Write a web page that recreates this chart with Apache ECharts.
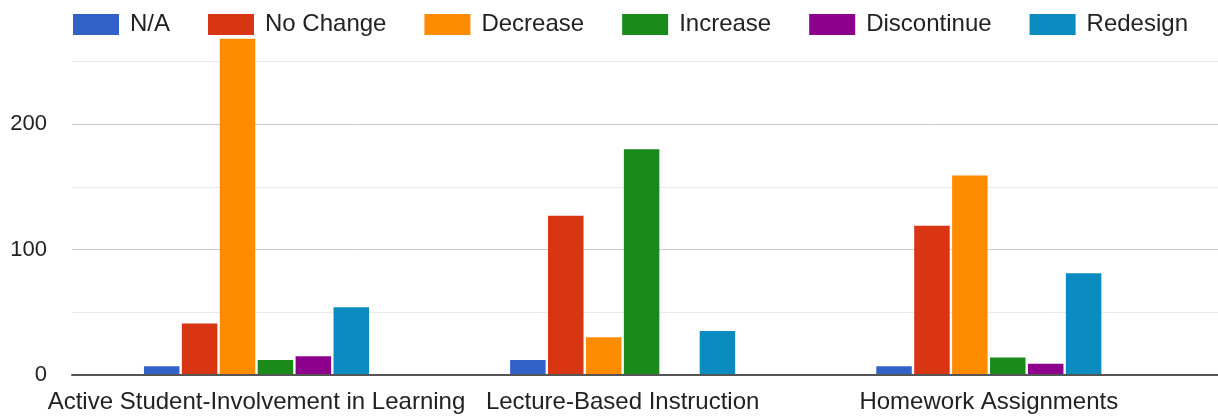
<!DOCTYPE html>
<html>
<head>
<meta charset="utf-8">
<script src="https://cdn.jsdelivr.net/npm/echarts@6/dist/echarts.min.js"></script>
<style>
  html, body { margin: 0; padding: 0; background: #fff; }
  #chart { width: 1218px; height: 417px; }
</style>
</head>
<body>
<div id="chart"></div>
<script>
// Survey responses per teaching practice
const categories = ['Active Student-Involvement in Learning', 'Lecture-Based Instruction', 'Homework Assignments'];
const seriesNames = ['N/A', 'No Change', 'Decrease', 'Increase', 'Discontinue', 'Redesign'];
const naValues = [7, 12, 7];
const noChangeValues = [41, 127, 119];
const decreaseValues = [268, 30, 159];
const increaseValues = [12, 180, 14];
const discontinueValues = [15, 0, 9];
const redesignValues = [54, 35, 81];
const yTickValues = [0, 100, 200];

const seriesValues = [naValues, noChangeValues, decreaseValues, increaseValues, discontinueValues, redesignValues];
const colors = ['#3262c8', '#d83512', '#ff8c00', '#1a8a1a', '#8c008c', '#0a8cc0'];

const yMax = 268;
const font = "'Liberation Sans', Arial, Helvetica, sans-serif";

const chart = echarts.init(document.getElementById('chart'), null, { renderer: 'canvas' });

chart.setOption({
  animation: false,
  color: colors,
  textStyle: { fontFamily: font },
  legend: {
    data: seriesNames,
    left: 73,
    top: 12.5,
    padding: 0,
    icon: 'rect',
    itemWidth: 46,
    itemHeight: 21,
    itemGap: 38,
    textStyle: { fontSize: 24, color: '#222', fontFamily: font, padding: [0, 0, 0, 6] }
  },
  grid: [
    // frame carrying gridlines and the baseline across the full width
    { left: 72, right: 0, top: 38.7, bottom: 42 },
    // frame carrying the category bands and bars
    { left: 73.4, right: 46.1, top: 38.7, bottom: 42 }
  ],
  xAxis: [
    {
      gridIndex: 0, type: 'value', min: 0, max: 1, z: 5,
      axisLine: { show: true, onZero: false, lineStyle: { color: '#555', width: 2 } },
      axisTick: { show: false }, axisLabel: { show: false }, splitLine: { show: false }
    },
    {
      gridIndex: 1, type: 'category', data: categories,
      axisLine: { show: false }, axisTick: { show: false },
      axisLabel: { fontSize: 24, color: '#222', fontFamily: font, margin: 15, interval: 0 }
    }
  ],
  yAxis: [
    {
      gridIndex: 0, type: 'value', min: 0, max: yMax, interval: 50,
      axisLine: { show: false }, axisTick: { show: false },
      axisLabel: {
        fontSize: 22, color: '#222', fontFamily: font, margin: 25, showMaxLabel: false,
        formatter: v => (yTickValues.indexOf(v) >= 0 ? String(v) : '')
      },
      splitLine: { show: true, showMaxLine: false, lineStyle: { color: ['#cccccc', '#e9e9e9'], width: 1 } }
    },
    { gridIndex: 1, type: 'value', min: 0, max: yMax, show: false }
  ],
  series: seriesNames.map((name, i) => ({
    name: name,
    type: 'bar',
    xAxisIndex: 1,
    yAxisIndex: 1,
    data: seriesValues[i],
    barWidth: 35.5,
    barGap: '6.8%',
    itemStyle: { color: colors[i] }
  }))
});
</script>
</body>
</html>
